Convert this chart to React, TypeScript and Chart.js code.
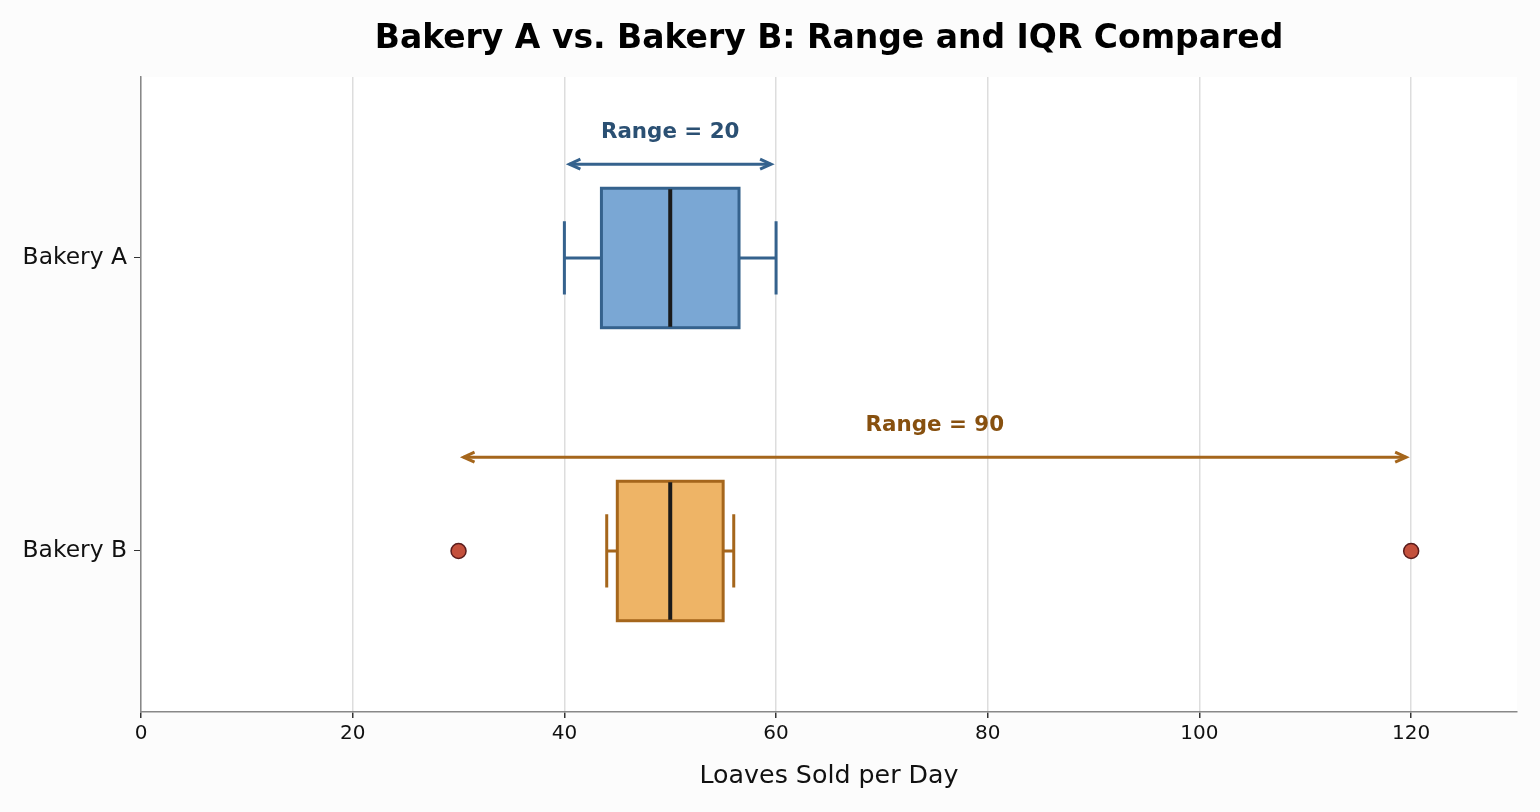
import { useEffect, useRef } from 'react';
import { Chart, registerables } from 'chart.js';

Chart.register(...registerables);

const categories = ['Bakery A', 'Bakery B'];
const whiskerLow = [40, 44];
const q1 = [43.5, 45];
const medians = [50, 50];
const q3 = [56.5, 55];
const whiskerHigh = [60, 56];
const outlierValues = [30, 120];
const outlierCategory = [1, 1];
const rangeMin = [40, 30];
const rangeMax = [60, 120];
const xTicks = [0, 20, 40, 60, 80, 100, 120];
const chartTitle = 'Bakery A vs. Bakery B: Range and IQR Compared';

const fillColors = ['#7aa7d4', '#eeb466'];
const edgeColors = ['#35628d', '#a5661c'];
const labelColors = ['#2b5073', '#87500f'];

const FONT = '"DejaVu Sans", Verdana, sans-serif';

const boxPlugin = {
  id: 'boxes',
  beforeDraw(chart: any) {
    const { ctx, chartArea: a, width, height } = chart;
    ctx.save();
    ctx.fillStyle = '#fcfcfc';
    ctx.fillRect(0, 0, width, height);
    ctx.fillStyle = '#ffffff';
    ctx.fillRect(a.left, a.top, a.right - a.left, a.bottom - a.top);
    // title centred over the plot area
    ctx.fillStyle = '#000000';
    ctx.font = `bold 33px ${FONT}`;
    ctx.textAlign = 'center';
    ctx.textBaseline = 'middle';
    ctx.fillText(chartTitle, (a.left + a.right) / 2, 39);
    ctx.restore();
  },
  beforeDatasetsDraw(chart: any) {
    const { ctx } = chart;
    const xs = chart.scales.x;
    const ys = chart.scales.y;
    ctx.save();
    categories.forEach((_, i) => {
      const yc = ys.getPixelForValue(i);
      const half = Math.abs(ys.getPixelForValue(i + 0.238) - yc);
      const cap = Math.abs(ys.getPixelForValue(i + 0.125) - yc);
      const xLo = xs.getPixelForValue(whiskerLow[i]);
      const xQ1 = xs.getPixelForValue(q1[i]);
      const xMed = xs.getPixelForValue(medians[i]);
      const xQ3 = xs.getPixelForValue(q3[i]);
      const xHi = xs.getPixelForValue(whiskerHigh[i]);

      ctx.strokeStyle = edgeColors[i];
      ctx.lineWidth = 3;
      ctx.lineCap = 'butt';
      // whiskers
      ctx.beginPath();
      ctx.moveTo(xLo, yc);
      ctx.lineTo(xQ1, yc);
      ctx.moveTo(xQ3, yc);
      ctx.lineTo(xHi, yc);
      ctx.moveTo(xLo, yc - cap);
      ctx.lineTo(xLo, yc + cap);
      ctx.moveTo(xHi, yc - cap);
      ctx.lineTo(xHi, yc + cap);
      ctx.stroke();

      // box
      ctx.fillStyle = fillColors[i];
      ctx.fillRect(xQ1, yc - half, xQ3 - xQ1, 2 * half);
      ctx.strokeRect(xQ1, yc - half, xQ3 - xQ1, 2 * half);

      // median
      ctx.strokeStyle = '#1a1a1a';
      ctx.lineWidth = 4;
      ctx.beginPath();
      ctx.moveTo(xMed, yc - half + 1);
      ctx.lineTo(xMed, yc + half - 1);
      ctx.stroke();

      // range arrow
      const ya = ys.getPixelForValue(i - 0.32);
      const xa = xs.getPixelForValue(rangeMin[i]) + 5;
      const xb = xs.getPixelForValue(rangeMax[i]) - 5;
      ctx.strokeStyle = edgeColors[i];
      ctx.lineWidth = 3;
      ctx.lineJoin = 'miter';
      ctx.beginPath();
      ctx.moveTo(xa, ya);
      ctx.lineTo(xb, ya);
      ctx.stroke();
      ctx.beginPath();
      ctx.moveTo(xa + 11, ya - 5);
      ctx.lineTo(xa, ya);
      ctx.lineTo(xa + 11, ya + 5);
      ctx.moveTo(xb - 11, ya - 5);
      ctx.lineTo(xb, ya);
      ctx.lineTo(xb - 11, ya + 5);
      ctx.stroke();

      // range label
      const yt = ys.getPixelForValue(i - 0.43);
      const xt = xs.getPixelForValue((rangeMin[i] + rangeMax[i]) / 2);
      ctx.fillStyle = labelColors[i];
      ctx.font = `bold 21.4px ${FONT}`;
      ctx.textAlign = 'center';
      ctx.textBaseline = 'middle';
      ctx.fillText(`Range = ${rangeMax[i] - rangeMin[i]}`, xt, yt);
    });
    ctx.restore();
  },
};

export default function App() {
  const ref = useRef<HTMLCanvasElement>(null);

  useEffect(() => {
    if (!ref.current) return;
    Chart.defaults.font.family = FONT;
    const chart = new Chart(ref.current, {
      type: 'scatter',
      data: {
        datasets: [
          {
            label: 'Outliers',
            data: outlierValues.map((v, k) => ({ x: v, y: outlierCategory[k] })),
            pointRadius: 7.5,
            pointHoverRadius: 7.5,
            backgroundColor: '#c4503c',
            borderColor: '#5a1c1c',
            borderWidth: 1.5,
          },
        ],
      },
      options: {
        animation: false,
        responsive: false,
        layout: { padding: { left: 0, right: 23, top: 77, bottom: 0 } },
        plugins: {
          legend: { display: false },
          tooltip: { enabled: false },
          title: { display: false },
        },
        scales: {
          x: {
            type: 'linear',
            position: 'bottom',
            min: 0,
            max: 130,
            afterBuildTicks: (s: any) => {
              s.ticks = xTicks.map((v) => ({ value: v }));
            },
            afterFit: (s: any) => {
              s.height = 100;
            },
            grid: {
              color: '#dddddd',
              lineWidth: 1.5,
              tickColor: '#333333',
              tickLength: 6,
            },
            border: { color: '#888888', width: 1.5 },
            ticks: {
              color: '#111111',
              font: { size: 20, family: FONT },
              padding: 4,
              maxRotation: 0,
            },
            title: {
              display: true,
              text: 'Loaves Sold per Day',
              color: '#111111',
              font: { size: 25.3, family: FONT },
              padding: { top: 0, bottom: 20 },
            },
          },
          y: {
            type: 'linear',
            reverse: true,
            min: -0.6177,
            max: 1.5495,
            afterBuildTicks: (s: any) => {
              s.ticks = categories.map((_, i) => ({ value: i }));
            },
            afterFit: (s: any) => {
              s.width = 141;
            },
            grid: {
              drawOnChartArea: false,
              tickColor: '#333333',
              tickLength: 7,
            },
            border: { color: '#888888', width: 1.5 },
            ticks: {
              color: '#111111',
              font: { size: 23.4, family: FONT },
              padding: 7,
              callback: (v: any) => categories[Number(v)] ?? '',
            },
          },
        },
      },
      plugins: [boxPlugin],
    } as any);
    return () => chart.destroy();
  }, []);

  return (
    <div style={{ position: 'fixed', left: 0, top: 0, width: 1540, height: 812, background: '#fcfcfc' }}>
      <canvas ref={ref} width={1540} height={812} />
    </div>
  );
}
